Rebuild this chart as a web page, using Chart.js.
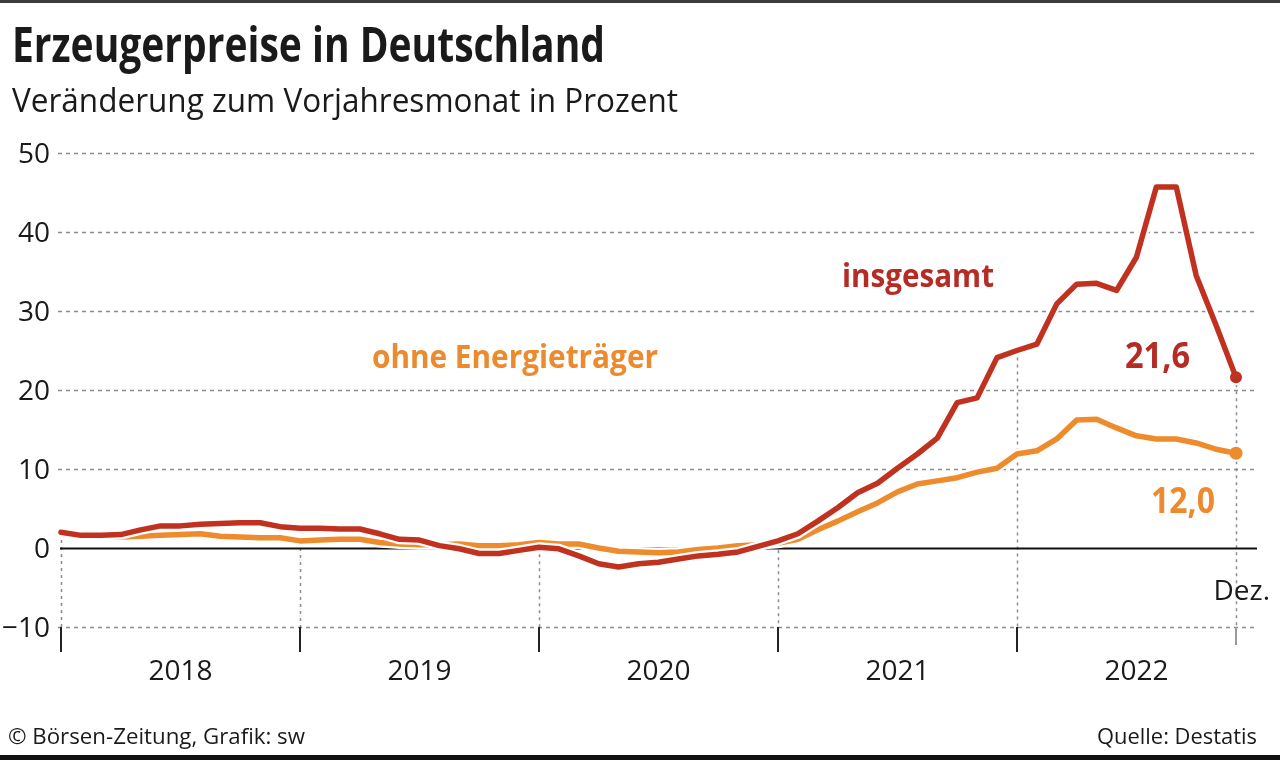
<!DOCTYPE html>
<html>
<head>
<meta charset="utf-8">
<script src="https://cdn.jsdelivr.net/npm/chart.js@4.4.1/dist/chart.umd.min.js"></script>
<style>
  html, body { margin: 0; padding: 0; background: #ffffff; }
  #c { display: block; }
</style>
</head>
<body>
<canvas id="c" width="1280" height="760"></canvas>
<script>
// ---- data ----
const years = ['2018', '2019', '2020', '2021', '2022'];
const monthsShort = ['Jan', 'Feb', 'Mär', 'Apr', 'Mai', 'Jun', 'Jul', 'Aug', 'Sep', 'Okt', 'Nov', 'Dez'];
const categories = [];
years.forEach(y => monthsShort.forEach(m => categories.push(m + ' ' + y)));

const insgesamt = [
  2.0, 1.6, 1.6, 1.7, 2.3, 2.8, 2.8, 3.0, 3.1, 3.2, 3.2, 2.7,
  2.5, 2.5, 2.4, 2.4, 1.8, 1.1, 1.0, 0.3, -0.1, -0.7, -0.7, -0.3,
  0.1, -0.1, -1.0, -2.0, -2.4, -2.0, -1.8, -1.4, -1.0, -0.8, -0.5, 0.2,
  0.9, 1.8, 3.4, 5.1, 7.0, 8.2, 10.1, 11.9, 13.9, 18.4, 19.0, 24.1,
  25.0, 25.8, 30.9, 33.4, 33.5, 32.6, 36.8, 45.7, 45.7, 34.5, 28.2, 21.6
];
const ohneEnergie = [
  1.9, 1.6, 1.5, 1.4, 1.5, 1.6, 1.7, 1.8, 1.5, 1.4, 1.3, 1.3,
  0.9, 1.0, 1.1, 1.1, 0.7, 0.5, 0.4, 0.4, 0.5, 0.3, 0.3, 0.4,
  0.7, 0.5, 0.5, 0.0, -0.4, -0.5, -0.6, -0.5, -0.2, 0.0, 0.3, 0.4,
  0.6, 1.1, 2.3, 3.4, 4.6, 5.7, 7.1, 8.1, 8.5, 8.9, 9.6, 10.1,
  11.9, 12.3, 13.8, 16.2, 16.3, 15.2, 14.2, 13.8, 13.8, 13.3, 12.5, 12.0
];
const yTicks = [50, 40, 30, 20, 10, 0, -10];
const yTickLabels = ['50', '40', '30', '20', '10', '0', '\u221210'];
const lastLabelRed = '21,6';
const lastLabelOrange = '12,0';

// ---- styles ----
const RED = '#c0311f';
const RED_TXT = '#b52c25';
const ORANGE = '#ee8b2c';
const ORANGE_TXT = '#ec8a2e';
const FONT = '"Open Sans", "Noto Sans", sans-serif';

function lastOnly(arr, r) { return arr.map((v, i) => i === arr.length - 1 ? r : 0); }

function fitText(ctx, text, x, y, width, font, color, align) {
  ctx.save();
  ctx.font = font;
  ctx.fillStyle = color;
  ctx.textAlign = 'left';
  ctx.textBaseline = 'alphabetic';
  const w = ctx.measureText(text).width;
  const s = width / w;
  let left = x;
  if (align === 'right') left = x - width;
  if (align === 'center') left = x - width / 2;
  ctx.translate(left, y);
  ctx.scale(s, 1);
  ctx.fillText(text, 0, 0);
  ctx.restore();
}

const decor = {
  id: 'decor',
  beforeDraw(chart) {
    const ctx = chart.ctx;
    const xs = chart.scales.x, ys = chart.scales.y;
    ctx.save();
    ctx.fillStyle = '#ffffff';
    ctx.fillRect(0, 0, chart.width, chart.height);
    // borders
    ctx.fillStyle = '#3c3c3c';
    ctx.fillRect(0, 0, chart.width, 3);
    ctx.fillStyle = '#111111';
    ctx.fillRect(0, 755, chart.width, 5);

    const gridLeft = 58, gridRight = 1257;
    // dashed horizontal grid
    ctx.strokeStyle = '#8c8c8c';
    ctx.lineWidth = 1.5;
    ctx.setLineDash([4, 4]);
    yTicks.forEach(v => {
      if (v === 0) return;
      const y = Math.round(ys.getPixelForValue(v)) + 0.5;
      ctx.beginPath(); ctx.moveTo(gridLeft, y); ctx.lineTo(gridRight, y); ctx.stroke();
    });
    // vertical dotted lines at year starts and at last month
    ctx.setLineDash([3, 4]);
    ctx.lineWidth = 1.5;
    ctx.strokeStyle = '#8c8c8c';
    const yBottom = ys.getPixelForValue(-10);
    const idxs = [0, 12, 24, 36, 48, categories.length - 1];
    idxs.forEach(i => {
      const x = Math.round(xs.getPixelForValue(i)) + 0.5;
      let top = Math.max(ys.getPixelForValue(insgesamt[i]), ys.getPixelForValue(ohneEnergie[i]));
      top = Math.min(top, ys.getPixelForValue(0));
      if (i === 48) top = ys.getPixelForValue(insgesamt[i]);
      if (i === categories.length - 1) top = ys.getPixelForValue(insgesamt[i]);
      ctx.beginPath(); ctx.moveTo(x, top); ctx.lineTo(x, yBottom); ctx.stroke();
    });
    ctx.setLineDash([]);
    // zero line
    const y0 = Math.round(ys.getPixelForValue(0)) + 0.5;
    ctx.strokeStyle = '#111111';
    ctx.lineWidth = 2;
    ctx.beginPath(); ctx.moveTo(60, y0); ctx.lineTo(gridRight, y0); ctx.stroke();
    // year ticks
    ctx.lineWidth = 2;
    ctx.strokeStyle = '#222222';
    [0, 12, 24, 36, 48].forEach(i => {
      const x = Math.round(xs.getPixelForValue(i));
      ctx.beginPath(); ctx.moveTo(x, yBottom); ctx.lineTo(x, yBottom + 25); ctx.stroke();
    });
    ctx.strokeStyle = '#9a9a9a';
    const xl = Math.round(xs.getPixelForValue(categories.length - 1));
    ctx.beginPath(); ctx.moveTo(xl, yBottom); ctx.lineTo(xl, yBottom + 18); ctx.stroke();
    ctx.restore();
  },
  afterDraw(chart) {
    const ctx = chart.ctx;
    const xs = chart.scales.x, ys = chart.scales.y;
    ctx.save();
    // y tick labels
    ctx.font = '28px ' + FONT;
    ctx.fillStyle = '#1a1a1a';
    ctx.textAlign = 'right';
    ctx.textBaseline = 'alphabetic';
    yTicks.forEach((v, k) => {
      const y = ys.getPixelForValue(v);
      ctx.fillText(yTickLabels[k], 50, y + 10);
    });
    // year labels
    ctx.textAlign = 'center';
    years.forEach((yr, k) => {
      const x0 = xs.getPixelForValue(k * 12);
      const x1 = xs.getPixelForValue(k * 12 + 12);
      const xc = k < years.length - 1 ? (x0 + x1) / 2 : x0 + (xs.getPixelForValue(12) - xs.getPixelForValue(0)) / 2;
      ctx.fillText(yr, xc, 680);
    });
    // Dez.
    ctx.textAlign = 'right';
    ctx.fillText('Dez.', 1270, 600);
    ctx.restore();

    // titles
    fitText(ctx, 'Erzeugerpreise in Deutschland', 12, 62, 593, 'bold 48px ' + FONT, '#1a1a1a', 'left');
    fitText(ctx, 'Veränderung zum Vorjahresmonat in Prozent', 12, 112, 666, '32px ' + FONT, '#1a1a1a', 'left');
    // series labels
    fitText(ctx, 'insgesamt', 842, 287, 152, 'bold 33px ' + FONT, RED_TXT, 'left');
    fitText(ctx, 'ohne Energieträger', 372, 368, 286, 'bold 33px ' + FONT, ORANGE_TXT, 'left');
    fitText(ctx, lastLabelRed, 1190, 368, 65, 'bold 35px ' + FONT, RED_TXT, 'right');
    fitText(ctx, lastLabelOrange, 1215, 513, 64, 'bold 35px ' + FONT, ORANGE_TXT, 'right');
    // footer
    fitText(ctx, '© Börsen-Zeitung, Grafik: sw', 8, 744, 297, '21px ' + FONT, '#1a1a1a', 'left');
    fitText(ctx, 'Quelle: Destatis', 1257, 744, 160, '21px ' + FONT, '#1a1a1a', 'right');
  }
};

const common = { tension: 0, borderJoinStyle: 'round', borderCapStyle: 'round', clip: false, pointHoverRadius: 0, pointBorderWidth: 0 };

new Chart(document.getElementById('c'), {
  type: 'line',
  data: {
    labels: categories,
    datasets: [
      Object.assign({}, common, { label: 'insgesamt', data: insgesamt, borderColor: RED, borderWidth: 5.5,
        pointRadius: lastOnly(insgesamt, 6), pointBackgroundColor: RED, order: 1 }),
      Object.assign({}, common, { label: 'insgesamt_halo', data: insgesamt, borderColor: '#ffffff', borderWidth: 10,
        pointRadius: lastOnly(insgesamt, 8), pointBackgroundColor: '#ffffff', order: 2 }),
      Object.assign({}, common, { label: 'ohne Energieträger', data: ohneEnergie, borderColor: ORANGE, borderWidth: 5.5,
        pointRadius: lastOnly(ohneEnergie, 6.5), pointBackgroundColor: ORANGE, order: 3 }),
      Object.assign({}, common, { label: 'ohne_halo', data: ohneEnergie, borderColor: '#ffffff', borderWidth: 10,
        pointRadius: lastOnly(ohneEnergie, 8.5), pointBackgroundColor: '#ffffff', order: 4 })
    ]
  },
  options: {
    responsive: false,
    devicePixelRatio: 1,
    animation: false,
    events: [],
    layout: { padding: { left: 61, right: 44, top: 153, bottom: 133 } },
    plugins: { legend: { display: false }, tooltip: { enabled: false } },
    scales: {
      x: { type: 'category', display: false, offset: false },
      y: { type: 'linear', display: false, min: -10, max: 50 }
    }
  },
  plugins: [decor]
});
</script>
</body>
</html>
